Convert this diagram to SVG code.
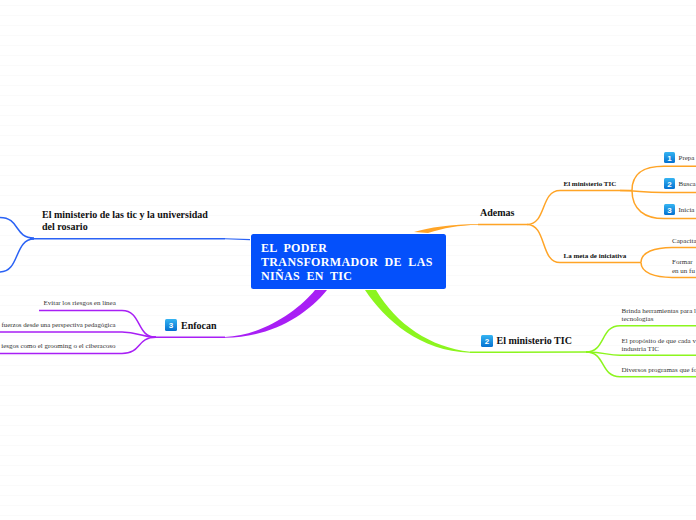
<svg xmlns="http://www.w3.org/2000/svg" width="696" height="520" viewBox="0 0 696 520">
<defs>
<pattern id="grid" width="696" height="10" patternUnits="userSpaceOnUse" patternTransform="translate(0,5)"><rect width="696" height="1" fill="#fafafa"/></pattern>
<linearGradient id="b" x1="0" y1="0" x2="0" y2="1"><stop offset="0" stop-color="#35b4f2"/><stop offset="1" stop-color="#0470d0"/></linearGradient>
</defs>
<style>
text{font-family:"Liberation Serif",serif;fill:#222}
.o,.g,.p,.l{fill:none;stroke-width:1.5}
.o{stroke:#ffa426}.g{stroke:#8cf51e}.p{stroke:#a81ff5}.l{stroke:#2a62f5}
.m{font-size:10px;font-weight:bold;fill:#111}
.s{font-size:7px;font-weight:bold;fill:#111}
.t{font-size:7px;fill:#333}
.n{font-size:8px;font-weight:bold;fill:#fff;font-family:"Liberation Sans",sans-serif;text-anchor:middle}
.c{font-size:12px;font-weight:bold;fill:#fff;letter-spacing:.35px;word-spacing:3px}
.ic{fill:url(#b)}
</style>
<rect width="696" height="520" fill="#fff"/>
<rect width="696" height="520" fill="url(#grid)"/>
<g id="connectors">
<path d="M414 232C428 227.500 452 224.500 478 224L478 224.800C458 225.500 444 228 428 233Z" fill="#ffa426"/>
<path class="o" d="M478 224.400L527 224.400"/>
<path class="o" d="M527 224.400C547 224.400 540 190.600 560 190.600L632 190.600"/>
<path class="o" d="M527 224.400C547 224.400 540 262.600 560 262.600L641 262.600"/>
<path class="o" d="M632 190.600C632 172 645 166.300 664 166.300L696 166.300"/>
<path class="o" d="M620 190.600C640 190.600 640 192.600 664 192.600L696 192.600"/>
<path class="o" d="M632 190.600C632 210 645 218.600 664 218.600L696 218.600"/>
<path class="o" d="M641 262.600C641 252 655 247.400 672 247.400L696 247.400"/>
<path class="o" d="M641 262.600C641 273 655 277.400 672 277.400L696 277.400"/>
<path d="M365 290C385 320 420 351 470 352.800L470 351.800C430 347 397 325 376 290Z" fill="#8cf51e"/>
<path class="g" d="M470 352.300L588 352"/>
<path class="g" d="M586 352C606 352 600 325.700 620 325.700L696 325.700"/>
<path class="g" d="M586 352C606 352 606 355.300 620 355.300L696 355.300"/>
<path class="g" d="M586 352C606 352 600 376.700 620 376.700L696 376.700"/>
<path d="M315 290C298 311 262 335.500 225 337L225 337.800C270 337.500 306 316 327 290Z" fill="#a81ff5"/>
<path class="p" d="M225 337.300L150 337.300"/>
<path class="p" d="M156 337.300C136 337.300 142 310.500 122 310.500L39 310.500"/>
<path class="p" d="M156 337.300C142 337.300 138 332 122 332L0 332"/>
<path class="p" d="M156 337.300C136 337.300 142 353.500 122 353.500L0 353.500"/>
<path d="M225 238.300L250 239L250 240.300L225 239.300Z" fill="#2a62f5"/>
<path class="l" d="M225 238.800L30 238.800"/>
<path class="l" d="M34 238C14 238 20 217.500 0 217.500"/>
<path class="l" d="M34 239C14 239 20 272 0 272"/>
</g>
<g id="root"><rect x="251" y="234" width="195" height="55" rx="2.500" fill="#0450fb"/>
<text class="c" x="261" y="252">EL PODER</text><text class="c" x="261" y="266">TRANSFORMADOR DE LAS</text><text class="c" x="261" y="280">NIÑAS EN TIC</text></g>
<g id="ademas"><text class="m" x="480" y="216">Ademas</text></g>
<g id="ministerio1"><text class="s" x="563.500" y="186">El ministerio TIC</text></g>
<g id="prep"><rect x="664" y="152" width="11" height="11" rx="1.500" class="ic"/><text class="n" x="669.500" y="161">1</text><text class="t" x="678.500" y="160">Prepa</text></g>
<g id="busca"><rect x="664" y="178" width="11" height="11" rx="1.500" class="ic"/><text class="n" x="669.500" y="187">2</text><text class="t" x="678.500" y="186">Busca</text></g>
<g id="inicia"><rect x="664" y="204" width="11" height="11" rx="1.500" class="ic"/><text class="n" x="669.500" y="213">3</text><text class="t" x="678.500" y="212">Inicia</text></g>
<g id="meta"><text class="s" x="563.500" y="258">La meta de iniciativa</text></g>
<g id="capacita"><text class="t" x="672" y="243">Capacita</text></g>
<g id="formar"><text class="t" x="672" y="264">Formar</text><text class="t" x="672" y="273">en un fu</text></g>
<g id="ministerio2"><rect x="481" y="335" width="12" height="12" rx="1.500" class="ic"/><text class="n" x="487" y="344">2</text><text class="m" x="496.500" y="344">El ministerio TIC</text></g>
<g id="brinda"><text class="t" x="621.500" y="313">Brinda herramientas para l</text><text class="t" x="621.500" y="321">tecnologías</text></g>
<g id="proposito"><text class="t" x="621.500" y="342.500">El propósito de que cada v</text><text class="t" x="621.500" y="350.500">industria TIC</text></g>
<g id="diversos"><text class="t" x="621.500" y="372">Diversos programas que fo</text></g>
<g id="enfocan"><rect x="165" y="319" width="12" height="12" rx="1.500" class="ic"/><text class="n" x="171" y="328">3</text><text class="m" x="181" y="329">Enfocan</text></g>
<g id="evitar"><text class="t" x="43.500" y="305">Evitar los riesgos en línea</text></g>
<g id="riesgos"><text class="t" x="115.500" y="327" text-anchor="end" style="font-size:6.800px">fuerzos desde una perspectiva pedagógica</text></g>
<g id="grooming"><text class="t" x="115.500" y="348" text-anchor="end">iesgos como el grooming o el ciberacoso</text></g>
<g id="rosario"><text class="m" x="42" y="218">El ministerio de las tic y la universidad</text><text class="m" x="42" y="230">del rosario</text></g>
</svg>
